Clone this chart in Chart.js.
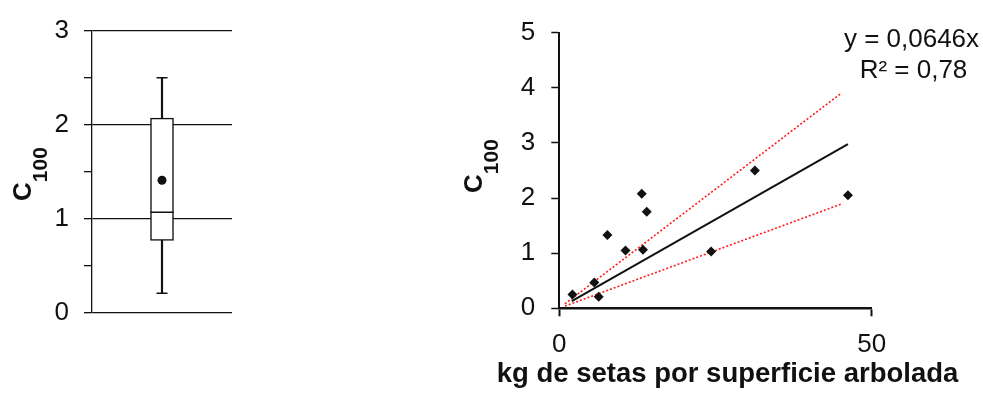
<!DOCTYPE html>
<html>
<head>
<meta charset="utf-8">
<script src="https://cdn.jsdelivr.net/npm/chart.js@4"></script>
<style>
  html, body { margin: 0; padding: 0; background: #fff; }
  body { width: 983px; height: 400px; position: relative; overflow: hidden; }
  canvas { position: absolute; top: 0; }
  #box { left: 0; }
  #scatter { left: 440px; }
</style>
</head>
<body>
<canvas id="box" width="260" height="400"></canvas>
<canvas id="scatter" width="543" height="400"></canvas>
<script>
// box plot (left)
const boxLabels = [''];
const boxMin = [0.21];
const boxQ1 = [0.77];
const boxMedian = [1.07];
const boxQ3 = [2.07];
const boxMax = [2.50];
const boxMean = [1.41];

// scatter (right)
const setasX = [2.1, 5.6, 6.3, 7.7, 10.6, 13.2, 13.4, 14.0, 24.3, 31.3, 46.2];
const setasY = [0.25, 0.47, 0.21, 1.33, 1.05, 2.08, 1.06, 1.75, 1.03, 2.50, 2.05];
const fitX = [2.0, 46.2];
const fitY = [0.13, 2.98];
const bandX = [0.9, 45.1];
const upperY = [0.08, 3.90];
const lowerY = [0.04, 1.89];
const equationLines = ['y = 0,0646x', 'R² = 0,78'];

const tickFont = { family: '"Liberation Sans", Arial, sans-serif', size: 26 };
const ink = '#111';

Chart.defaults.animation = false;
Chart.defaults.color = ink;

function drawC100(ctx, x, y) {
  ctx.save();
  ctx.translate(x, y);
  ctx.rotate(-Math.PI / 2);
  ctx.fillStyle = ink;
  ctx.textBaseline = 'alphabetic';
  ctx.textAlign = 'left';
  ctx.font = 'bold 26px "Liberation Sans", Arial, sans-serif';
  ctx.fillText('C', 0, 0);
  let w = ctx.measureText('C').width;
  ctx.font = 'bold 21px "Liberation Sans", Arial, sans-serif';
  ctx.fillText('100', w, 16);
  ctx.restore();
}

// ---- left: box plot ----
new Chart(document.getElementById('box'), {
  type: 'bar',
  data: {
    labels: boxLabels,
    datasets: [
      {
        label: 'caja',
        data: boxQ1.map((v, i) => [v, boxQ3[i]]),
        backgroundColor: '#fff',
        borderColor: ink,
        borderWidth: 1.5,
        borderSkipped: false,
        barThickness: 23,
        grouped: false,
        order: 2
      },
      {
        label: 'bigotes',
        data: boxMin.map((v, i) => [v, boxMax[i]]),
        backgroundColor: ink,
        borderWidth: 0,
        barThickness: 1.5,
        grouped: false,
        order: 3
      },
      {
        type: 'line', label: 'mediana', data: boxMedian, showLine: false,
        pointStyle: 'line', pointRadius: 11.5, borderColor: ink, borderWidth: 1.5, order: 1
      },
      {
        type: 'line', label: 'min', data: boxMin, showLine: false,
        pointStyle: 'line', pointRadius: 5.5, borderColor: ink, borderWidth: 1.5, order: 1
      },
      {
        type: 'line', label: 'max', data: boxMax, showLine: false,
        pointStyle: 'line', pointRadius: 5.5, borderColor: ink, borderWidth: 1.5, order: 1
      },
      {
        type: 'line', label: 'media', data: boxMean, showLine: false,
        pointStyle: 'circle', pointRadius: 4.5, backgroundColor: ink, borderColor: ink, borderWidth: 0, order: 1
      }
    ]
  },
  options: {
    responsive: false,
    devicePixelRatio: 1,
    layout: { padding: { top: 27, right: 28, bottom: 87, left: 0 } },
    plugins: { legend: { display: false }, tooltip: { enabled: false } },
    events: [],
    scales: {
      x: { display: false },
      y: {
        min: 0,
        max: 3,
        afterFit: (scale) => { scale.width = 92 },
        ticks: {
          stepSize: 0.5,
          font: tickFont,
          color: ink,
          padding: 15,
          callback: (v) => Number.isInteger(v) ? v : ''
        },
        border: { display: true, color: ink, width: 1.3 },
        grid: {
          color: (c) => Number.isInteger(c.tick.value) ? ink : 'rgba(0,0,0,0)',
          lineWidth: 1.3,
          drawTicks: true,
          tickLength: 8,
          tickColor: ink,
          tickWidth: 1.3
        }
      }
    }
  },
  plugins: [{
    id: 'boxTitle',
    afterDraw(chart) {
      drawC100(chart.ctx, 31, 201);
    }
  }]
});

// ---- right: scatter ----
new Chart(document.getElementById('scatter'), {
  type: 'scatter',
  data: {
    datasets: [
      {
        label: 'datos',
        data: setasX.map((x, i) => ({ x: x, y: setasY[i] })),
        pointStyle: 'rectRot',
        pointRadius: 5,
        backgroundColor: ink,
        borderColor: ink,
        borderWidth: 0,
        order: 0
      },
      {
        label: 'ajuste',
        data: fitX.map((x, i) => ({ x: x, y: fitY[i] })),
        showLine: true,
        pointRadius: 0,
        borderColor: ink,
        borderWidth: 2,
        order: 1
      },
      {
        label: 'sup',
        data: bandX.map((x, i) => ({ x: x, y: upperY[i] })),
        showLine: true,
        pointRadius: 0,
        borderColor: '#ff1a1a',
        borderWidth: 1.6,
        borderDash: [2, 2],
        order: 2
      },
      {
        label: 'inf',
        data: bandX.map((x, i) => ({ x: x, y: lowerY[i] })),
        showLine: true,
        pointRadius: 0,
        borderColor: '#ff1a1a',
        borderWidth: 1.6,
        borderDash: [2, 2],
        order: 2
      }
    ]
  },
  options: {
    responsive: false,
    devicePixelRatio: 1,
    layout: { padding: { top: 32.7, right: 111.3, bottom: 31.7, left: 0 } },
    plugins: { legend: { display: false }, tooltip: { enabled: false } },
    events: [],
    scales: {
      x: {
        type: 'linear',
        min: 0,
        max: 50,
        afterFit: (scale) => { scale.height = 60 },
        ticks: { stepSize: 50, font: tickFont, color: ink, padding: 13 },
        border: { display: true, color: ink, width: 2.5 },
        grid: { display: true, drawOnChartArea: false, drawTicks: true, tickLength: 8, tickColor: ink, tickWidth: 2 }
      },
      y: {
        min: 0,
        max: 5,
        afterFit: (scale) => { scale.width = 119.3 },
        ticks: { stepSize: 1, font: tickFont, color: ink, padding: 16 },
        border: { display: true, color: ink, width: 2 },
        grid: { display: true, drawOnChartArea: false, drawTicks: true, tickLength: 8, tickColor: ink, tickWidth: 1.5 }
      }
    }
  },
  plugins: [{
    id: 'scatterText',
    afterDraw(chart) {
      const ctx = chart.ctx;
      drawC100(ctx, 42, 193);
      ctx.save();
      ctx.fillStyle = ink;
      ctx.textAlign = 'center';
      ctx.textBaseline = 'alphabetic';
      ctx.font = '26px "Liberation Sans", Arial, sans-serif';
      ctx.fillText(equationLines[0], 471.5, 47);
      ctx.fillText(equationLines[1], 473.5, 78);
      ctx.font = 'bold 27.5px "Liberation Sans", Arial, sans-serif';
      ctx.fillText('kg de setas por superficie arbolada', 287.5, 382);
      ctx.restore();
    }
  }]
});
</script>
</body>
</html>
